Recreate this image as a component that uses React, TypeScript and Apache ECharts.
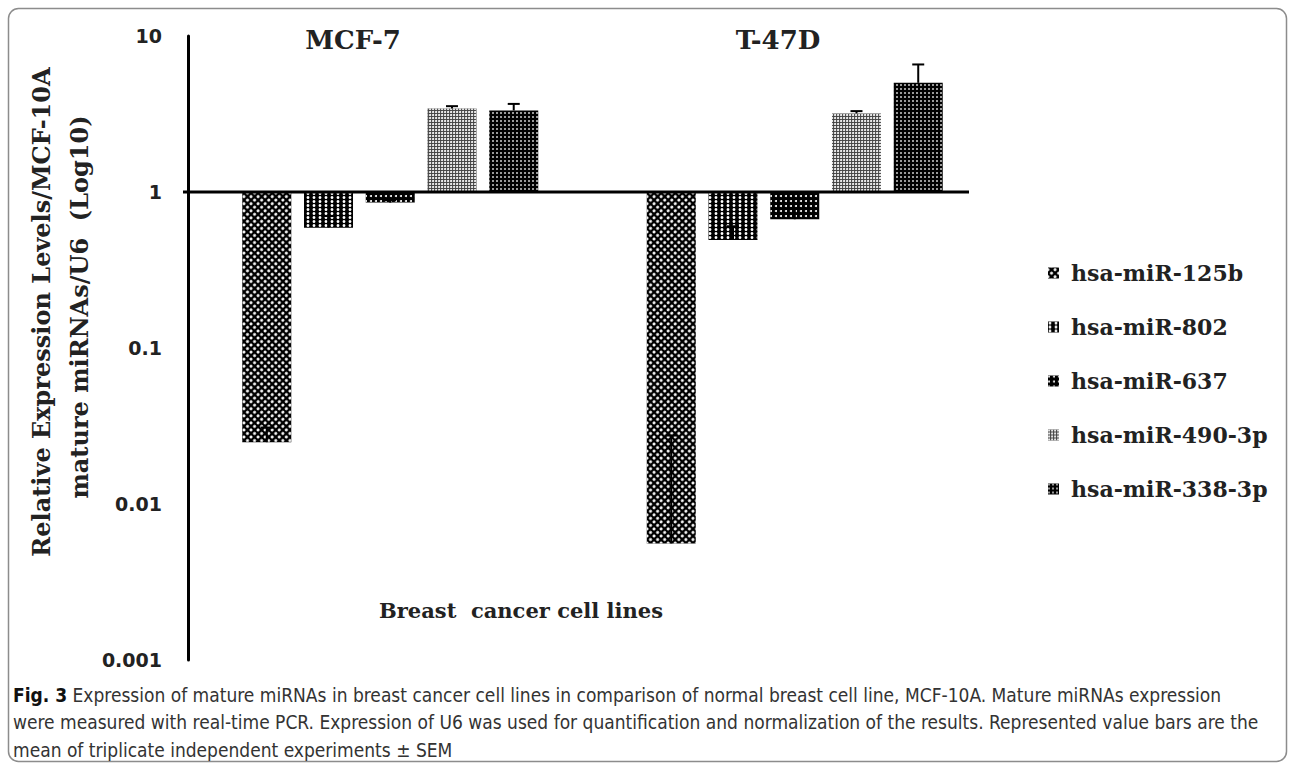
import React, { useEffect, useRef } from 'react';
import * as echarts from 'echarts';

const categories = ['MCF-7', 'T-47D'];
const seriesNames = ['hsa-miR-125b', 'hsa-miR-802', 'hsa-miR-637', 'hsa-miR-490-3p', 'hsa-miR-338-3p'];
const miR125b = [0.0249, 0.00559];
const miR802 = [0.591, 0.493];
const miR637 = [0.855, 0.669];
const miR490 = [3.43, 3.19];
const miR338 = [3.33, 5.01];
const sem125b = [0.006, 0.0219];
const sem802 = [0.11, 0.11];
const sem637 = [0.03, 0.12];
const sem490 = [0.12, 0.11];
const sem338 = [0.34, 1.56];
const yMin = 0.001;
const yMax = 10;
const yTitle1 = 'Relative Expression Levels/MCF-10A';
const yTitle2 = 'mature miRNAs/U6  (Log10)';
const xTitle = 'Breast  cancer cell lines';
const captionLines = [
  '{b|Fig. 3} Expression of mature miRNAs in breast cancer cell lines in comparison of normal breast cell line, MCF-10A. Mature miRNAs expression',
  'were measured with real-time PCR. Expression of U6 was used for quantification and normalization of the results. Represented value bars are the',
  'mean of triplicate independent experiments \u00b1 SEM',
];

const values = [miR125b, miR802, miR637, miR490, miR338];
const sems = [sem125b, sem802, sem637, sem490, sem338];

const SERIF = "'DejaVu Serif', 'Liberation Serif', serif";
const SANS = "'DejaVu Sans', sans-serif";
const CAPTION = "'DejaVu Sans Condensed', 'Open Sans', sans-serif";

const BAR_WIDTH = 49;
const BAR_GAP = '26%';

const decals: any[] = [
  { color: '#ffffff', symbol: 'circle', symbolSize: 1, dashArrayX: [2.4, 1.1], dashArrayY: [2.4, 1.1], rotation: Math.PI / 4 },
  { color: '#ffffff', symbol: 'circle', symbolSize: 0.95, symbolKeepAspect: false, dashArrayX: [4, 1.5], dashArrayY: [2.6, 1] },
  { color: '#ffffff', symbol: 'circle', symbolSize: 1, dashArrayX: [2, 3], dashArrayY: [2, 2.5] },
  { color: '#ffffff', symbol: 'circle', symbolSize: 1, dashArrayX: [2, 0.7], dashArrayY: [2, 0.7] },
  { color: '#ffffff', symbol: 'rect', symbolSize: 0.8, dashArrayX: [2, 2], dashArrayY: [2, 2] },
];
const baseColors = ['#000000', '#000000', '#000000', '#444444', '#000000'];

export default function App() {
  const ref = useRef<HTMLDivElement>(null);
  useEffect(() => {
    document.body.style.margin = '0';
    if (!ref.current) return;
    const chart = echarts.init(ref.current, null, { renderer: 'svg' });

    const barSeries = seriesNames.map((name, i) => ({
      name,
      type: 'bar',
      data: values[i],
      barWidth: BAR_WIDTH,
      barGap: BAR_GAP,
      itemStyle: { color: baseColors[i], decal: decals[i] },
      emphasis: { disabled: true },
    }));

    const errData: number[][] = [];
    sems.forEach((arr, s) => arr.forEach((e, c) => errData.push([c, s, values[s][c], e])));

    const errorSeries = {
      type: 'custom',
      name: 'err',
      z: 5,
      clip: false,
      silent: true,
      data: errData,
      renderItem: (params: any, api: any) => {
        const c = api.value(0);
        const s = api.value(1);
        const v = api.value(2);
        const e = api.value(3);
        const p0 = api.coord([c, v]);
        const p1 = api.coord([c, v + e]);
        let offset = (s - 2) * 62;
        if (typeof api.barLayout === 'function') {
          const lay = api.barLayout({ count: 5, barWidth: BAR_WIDTH, barGap: BAR_GAP });
          if (lay && lay[s]) offset = lay[s].offsetCenter;
        }
        const x = p0[0] + offset;
        const stroke = { stroke: '#000', lineWidth: 2 };
        return {
          type: 'group',
          children: [
            { type: 'line', shape: { x1: x, y1: p0[1], x2: x, y2: p1[1] }, style: stroke },
            { type: 'line', shape: { x1: x - 6, y1: p1[1], x2: x + 6, y2: p1[1] }, style: stroke },
          ],
        };
      },
    };

    const baseLineSeries = {
      type: 'custom',
      name: 'baseline',
      z: 6,
      clip: false,
      silent: true,
      data: [[0, 1]],
      renderItem: (params: any, api: any) => {
        const y = api.coord([0, api.value(1)])[1];
        const x0 = params.coordSys.x - 5;
        return {
          type: 'line',
          shape: { x1: x0, y1: y, x2: 969, y2: y },
          style: { stroke: '#000', lineWidth: 3 },
        };
      },
    };

    const option: any = {
      animation: false,
      backgroundColor: '#ffffff',
      grid: { left: 188, right: 298, top: 36, bottom: 110, containLabel: false },
      xAxis: {
        type: 'category',
        data: categories,
        axisLine: { show: false },
        axisTick: { show: false },
        axisLabel: { show: false },
        splitLine: { show: false },
      },
      yAxis: {
        type: 'log',
        logBase: 10,
        min: yMin,
        max: yMax,
        axisLine: { show: true, lineStyle: { color: '#000', width: 3 } },
        axisTick: { show: false },
        splitLine: { show: false },
        axisLabel: {
          align: 'right',
          margin: 26,
          color: '#222',
          fontFamily: SANS,
          fontWeight: 'bold',
          fontSize: 19,
          formatter: (v: number) => String(v),
        },
      },
      legend: {
        orient: 'vertical',
        left: 1043,
        top: 256,
        itemWidth: 11,
        itemHeight: 11,
        itemGap: 30,
        icon: 'rect',
        data: seriesNames,
        selectedMode: false,
        textStyle: {
          fontFamily: SERIF,
          fontWeight: 'bold',
          fontSize: 22,
          lineHeight: 24,
          color: '#222',
          padding: [0, 0, 0, 7],
        },
      },
      graphic: [
        {
          type: 'rect',
          shape: { x: 8.5, y: 8.5, width: 1278, height: 753, r: 10 },
          style: { fill: 'none', stroke: '#8c8c8c', lineWidth: 1.5 },
          silent: true,
        },
        {
          type: 'text', x: 353, y: 40,
          style: { text: categories[0], align: 'center', verticalAlign: 'middle', font: `bold 26px ${SERIF}`, fill: '#222' },
        },
        {
          type: 'text', x: 778, y: 40,
          style: { text: categories[1], align: 'center', verticalAlign: 'middle', font: `bold 26px ${SERIF}`, fill: '#222' },
        },
        {
          type: 'text', x: 41, y: 312, rotation: Math.PI / 2,
          style: { text: yTitle1, align: 'center', verticalAlign: 'middle', font: `bold 24px ${SERIF}`, fill: '#222' },
        },
        {
          type: 'text', x: 79, y: 307, rotation: Math.PI / 2,
          style: { text: yTitle2, align: 'center', verticalAlign: 'middle', font: `bold 24px ${SERIF}`, fill: '#222' },
        },
        {
          type: 'text', x: 521, y: 610,
          style: { text: xTitle, align: 'center', verticalAlign: 'middle', font: `bold 21px ${SERIF}`, fill: '#222' },
        },
        {
          type: 'text', x: 13, y: 681,
          style: {
            text: captionLines.join('\n'),
            align: 'left',
            verticalAlign: 'top',
            fontFamily: CAPTION,
            fontSize: 19,
            lineHeight: 27.5,
            fill: '#333',
            rich: { b: { fontFamily: CAPTION, fontSize: 19, fontWeight: 'bold', fill: '#111', lineHeight: 27.5 } },
          },
        },
      ],
      series: [...barSeries, errorSeries, baseLineSeries],
    };
    chart.setOption(option);
    return () => chart.dispose();
  }, []);
  return <div ref={ref} style={{ width: 1295, height: 770 }} />;
}
